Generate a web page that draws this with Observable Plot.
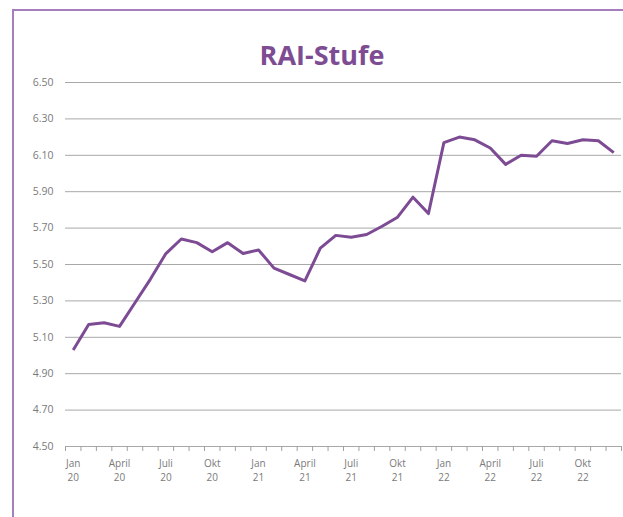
<!DOCTYPE html>
<html>
<head>
<meta charset="utf-8">
<script src="https://cdn.jsdelivr.net/npm/d3@7"></script>
<script src="https://cdn.jsdelivr.net/npm/@observablehq/plot@0.6"></script>
<style>
  html, body { margin: 0; padding: 0; background: #fff; }
  #wrap { position: relative; width: 623px; height: 517px; overflow: hidden; font-family: "Open Sans", sans-serif; }
  #frame { position: absolute; left: 12px; top: 9px; width: 640px; height: 540px;
           border-left: 2px solid #a57fbd; border-top: 2px solid #a57fbd; box-sizing: border-box; }
  #title { position: absolute; left: 0; width: 644px; top: 41px; text-align: center;
           font-family: "Open Sans", sans-serif; font-weight: 700; font-size: 27px; color: #7e4c93; line-height: 1; }
  #chart { position: absolute; left: 0; top: 0; }
</style>
</head>
<body>
<div id="wrap">
  <div id="frame"></div>
  <div id="chart"></div>
  <div id="title">RAI-Stufe</div>
</div>
<script>
// Monthly values Jan 2020 – Dec 2022
const months = [
  "2020-01","2020-02","2020-03","2020-04","2020-05","2020-06","2020-07","2020-08","2020-09","2020-10","2020-11","2020-12",
  "2021-01","2021-02","2021-03","2021-04","2021-05","2021-06","2021-07","2021-08","2021-09","2021-10","2021-11","2021-12",
  "2022-01","2022-02","2022-03","2022-04","2022-05","2022-06","2022-07","2022-08","2022-09","2022-10","2022-11","2022-12"
];
const raiValues = [
  5.03, 5.17, 5.18, 5.16, 5.29, 5.42, 5.56, 5.64, 5.62, 5.57, 5.62, 5.56,
  5.58, 5.48, 5.445, 5.41, 5.59, 5.66, 5.65, 5.665, 5.71, 5.76, 5.87, 5.78,
  6.17, 6.20, 6.185, 6.14, 6.05, 6.10, 6.095, 6.18, 6.165, 6.185, 6.18, 6.115
];
const yTicks = [4.5, 4.7, 4.9, 5.1, 5.3, 5.5, 5.7, 5.9, 6.1, 6.3, 6.5];
const xLabelIndex = [0, 3, 6, 9, 12, 15, 18, 21, 24, 27, 30, 33];
const xMonthLabels = ["Jan","April","Juli","Okt","Jan","April","Juli","Okt","Jan","April","Juli","Okt"];
const xYearLabels = ["20","20","20","20","21","21","21","21","22","22","22","22"];

const data = months.map((m, i) => ({i, month: m, value: raiValues[i]}));
const boundaries = d3.range(months.length + 1).map(k => k - 0.5);
const labelData = xLabelIndex.map((i, k) => ({i, month: xMonthLabels[k], year: xYearLabels[k]}));

const chart = Plot.plot({
  width: 623,
  height: 517,
  marginTop: 82,
  marginBottom: 71,
  marginLeft: 65,
  marginRight: 2,
  style: {fontFamily: "Open Sans, sans-serif", fontSize: "10.5px", color: "#7a7a7a", background: "transparent"},
  x: {type: "linear", domain: [-0.5, months.length - 0.5], axis: null, label: null},
  y: {domain: [4.5, 6.5], axis: null, label: null},
  marks: [
    Plot.ruleY(yTicks, {stroke: "#a8a8a8", strokeWidth: 1}),
    Plot.axisY({ticks: yTicks, tickSize: 0, tickPadding: 12, tickFormat: d3.format(".2f"), fill: "#7a7a7a", fontSize: 10.5, label: null}),
    Plot.axisX({ticks: boundaries, tickSize: 5, tickFormat: () => "", stroke: "#a0a0a0", label: null}),
    Plot.text(labelData, {x: "i", y: () => 4.5, text: "month", dy: 17, fill: "#7a7a7a", fontSize: 10}),
    Plot.text(labelData, {x: "i", y: () => 4.5, text: "year", dy: 31, fill: "#7a7a7a", fontSize: 10}),
    Plot.line(data, {x: "i", y: "value", stroke: "#7d4b94", strokeWidth: 3, strokeLinejoin: "round", strokeLinecap: "butt"})
  ]
});
document.getElementById("chart").appendChild(chart);
</script>
</body>
</html>
